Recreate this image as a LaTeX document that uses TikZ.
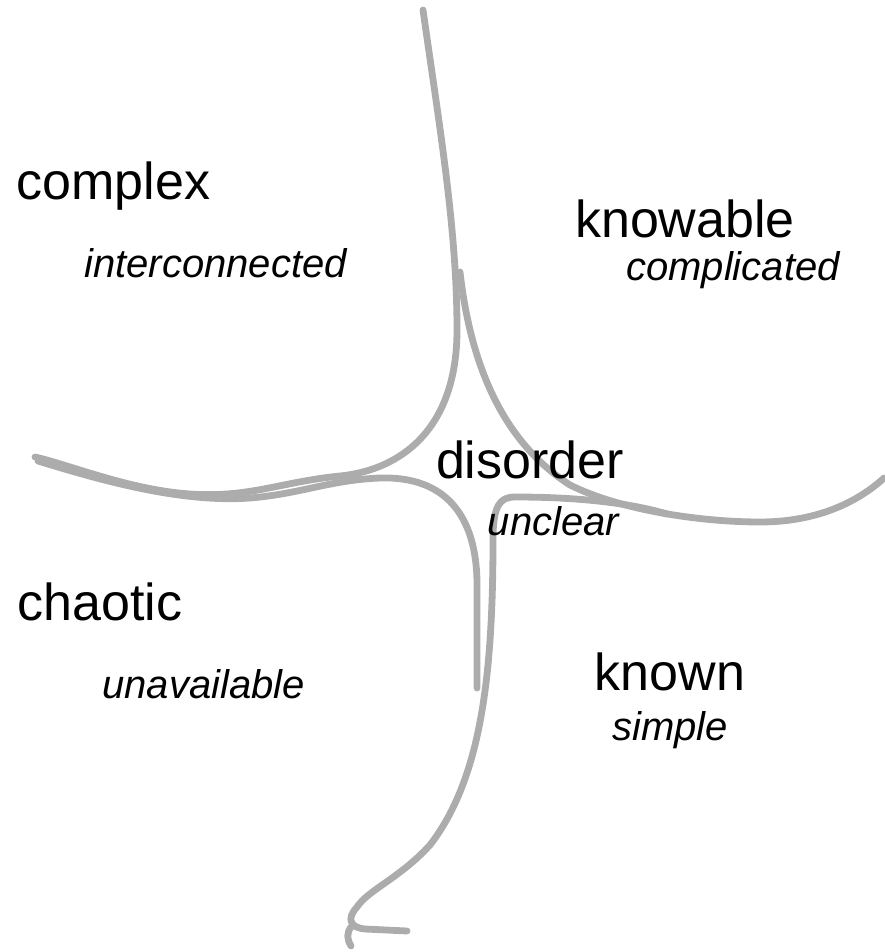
\documentclass[tikz,border=0pt]{standalone}
\usepackage{fontspec}
\setmainfont{Liberation Sans}
\usepackage{tikz}
\definecolor{curvegray}{RGB}{172,172,172}
\tikzset{
  domainname/.style={font=\fontsize{26}{30}\selectfont, anchor=base, inner sep=0pt},
  domaintrait/.style={font=\fontsize{20}{24}\selectfont\itshape, anchor=base, inner sep=0pt},
  boundary/.style={draw=curvegray, line width=3.4pt, line cap=round, line join=round}
}
\begin{document}
\begin{tikzpicture}[x=0.5pt, y=-0.5pt]
\useasboundingbox (0,0) rectangle (884,952);

\draw[boundary] (423,10) .. controls (440,130) and (457,230) .. (457,330)
  .. controls (457,430) and (400,470) .. (340,476)
  .. controls (280,482) and (250,498) .. (190,494)
  .. controls (130,490) and (70,465) .. (35,457);
\draw[boundary] (38,461) .. controls (100,480) and (180,503) .. (250,498)
  .. controls (300,494) and (330,480) .. (380,478)
  .. controls (445,476) and (477,515) .. (477,585) -- (477,688);
\draw[boundary] (460,272) .. controls (470,360) and (500,440) .. (570,485)
  .. controls (620,510) and (700,522) .. (760,522)
  .. controls (820,522) and (860,500) .. (884,478);
\draw[boundary] (667,514) .. controls (620,500) and (560,497) .. (515,497)
  .. controls (500,497) and (493,505) .. (493,540)
  .. controls (493,680) and (480,780) .. (430,845)
  .. controls (400,878) and (368,890) .. (357,907)
  .. controls (345,920) and (352,928) .. (365,929) -- (407,931);
\draw[boundary] (352,926) .. controls (346,932) and (347,940) .. (351,946);

\node[domainname] (complex) at (113.5,200) {complex};
\node[domaintrait] (interconnected) at (215.5,278) {interconnected};
\node[domainname] (knowable) at (685,237) {knowable};
\node[domaintrait] (complicated) at (733,280) {complicated};
\node[domainname] (chaotic) at (100,620) {chaotic};
\node[domaintrait] (unavailable) at (203.5,698) {unavailable};
\node[domainname] (known) at (670,690) {known};
\node[domaintrait] (simple) at (670,740) {simple};
\node[domainname] (disorder) at (530,478) {disorder};
\node[domaintrait] (unclear) at (553.5,535) {unclear};
\end{tikzpicture}
\end{document}
